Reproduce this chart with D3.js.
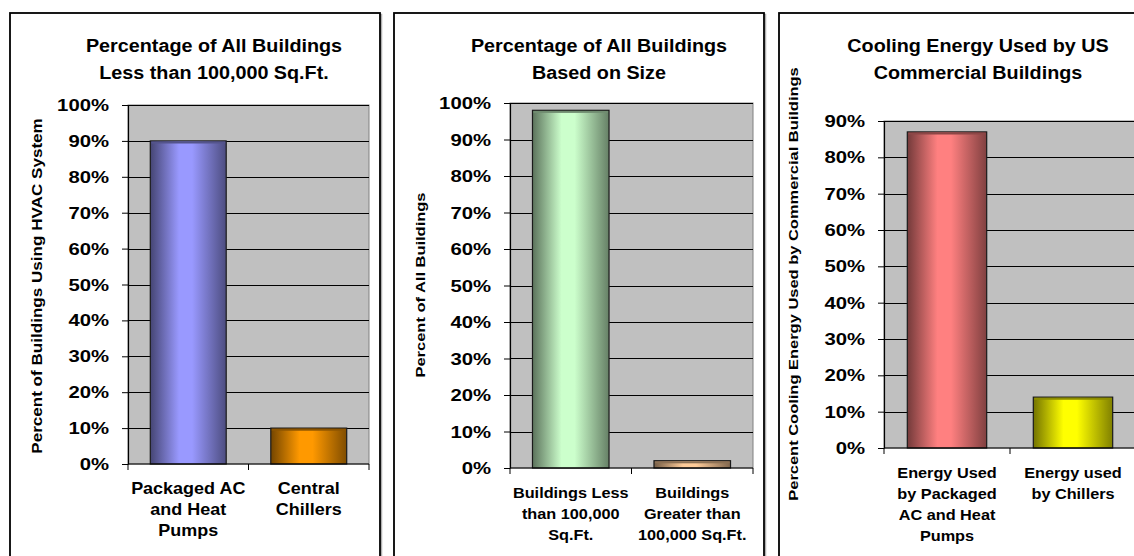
<!DOCTYPE html>
<html>
<head>
<meta charset="utf-8">
<script src="https://cdn.jsdelivr.net/npm/d3@7"></script>
<style>
  body { margin: 0; background: #fff; }
  svg text { font-family: "Liberation Sans", Arial, sans-serif; font-weight: bold; fill: #000; }
</style>
</head>
<body>
<svg id="chart" width="1134" height="556"></svg>
<script>
// data
var titles1 = ["Percentage of All Buildings", "Less than 100,000 Sq.Ft."];
var yTitle1 = "Percent of Buildings Using HVAC System";
var categories1 = [["Packaged AC", "and Heat", "Pumps"], ["Central", "Chillers"]];
var values1 = [0.90, 0.10];
var colors1 = ["#9999FF", "#FF9900"];

var titles2 = ["Percentage of All Buildings", "Based on Size"];
var yTitle2 = "Percent of All Buildings";
var categories2 = [["Buildings Less", "than 100,000", "Sq.Ft."], ["Buildings", "Greater than", "100,000 Sq.Ft."]];
var values2 = [0.98, 0.02];
var colors2 = ["#CCFFCC", "#FFCC99"];

var titles3 = ["Cooling Energy Used by US", "Commercial Buildings"];
var yTitle3 = "Percent Cooling Energy Used by Commercial Buildings";
var categories3 = [["Energy Used", "by Packaged", "AC and Heat", "Pumps"], ["Energy used", "by Chillers"]];
var values3 = [0.87, 0.14];
var colors3 = ["#FF8080", "#FFFF00"];

var yMaxes = [1.0, 1.0, 0.9];

var svg = d3.select("#chart");
var defs = svg.append("defs");

// layout of each panel (pixels)
var panels = [
  {x0: 10,  x1: 380,  left: 128, right: 369,  top: 105, bottom: 464, titleX: 214, ytX: 37,  ytY: 286, ytSize: 14, xlSize: 16.5, xlSx: 1.09,
   titles: titles1, yTitle: yTitle1, cats: categories1, vals: values1, colors: colors1, yMax: yMaxes[0]},
  {x0: 394, x1: 764,  left: 510, right: 753,  top: 103, bottom: 468, titleX: 599, ytX: 420, ytY: 285, ytSize: 13.5, xlSize: 15.5, xlSx: 1.05,
   titles: titles2, yTitle: yTitle2, cats: categories2, vals: values2, colors: colors2, yMax: yMaxes[1]},
  {x0: 779, x1: 1149, left: 884, right: 1136, top: 121, bottom: 448, titleX: 978, ytX: 793, ytY: 284, ytSize: 13.5, xlSize: 15.5, xlSx: 1.05,
   titles: titles3, yTitle: yTitle3, cats: categories3, vals: values3, colors: colors3, yMax: yMaxes[2]}
];

// text is drawn wide, like the old Excel export
function wideText(g, str, x, y, size, sx, anchor, rotate) {
  return g.append("text")
    .attr("transform", "translate(" + x + "," + y + ")" + (rotate ? " rotate(-90)" : "") + " scale(" + sx + ",1)")
    .attr("text-anchor", anchor)
    .style("font-size", size + "px")
    .text(str);
}

function gradFor(id, c) {
  var dark = d3.interpolateRgb(c, "#000")(0.55);
  var dark2 = d3.interpolateRgb(c, "#000")(0.5);
  var lg = defs.append("linearGradient").attr("id", id).attr("x1", "0%").attr("x2", "100%");
  lg.append("stop").attr("offset", "0%").attr("stop-color", dark);
  lg.append("stop").attr("offset", "38%").attr("stop-color", c);
  lg.append("stop").attr("offset", "55%").attr("stop-color", c);
  lg.append("stop").attr("offset", "100%").attr("stop-color", dark2);
  return "url(#" + id + ")";
}

panels.forEach(function(p, pi) {
  var g = svg.append("g");

  // frame with a soft shadow
  g.append("rect").attr("x", p.x0 + 1.5).attr("y", 14.5).attr("width", p.x1 - p.x0).attr("height", 600)
    .attr("fill", "none").attr("stroke", "#b0b0b0").attr("stroke-width", 1.5);
  g.append("rect").attr("x", p.x0).attr("y", 13).attr("width", p.x1 - p.x0).attr("height", 600)
    .attr("fill", "#fff").attr("stroke", "#000").attr("stroke-width", 1.8);

  // title
  wideText(g, p.titles[0], p.titleX, 52, 17.5, 1.13, "middle");
  wideText(g, p.titles[1], p.titleX, 78.5, 17.5, 1.13, "middle");

  var x = d3.scaleBand().domain(d3.range(p.cats.length)).range([p.left, p.right]).padding(0);
  var y = d3.scaleLinear().domain([0, p.yMax]).range([p.bottom, p.top]);
  var ticks = d3.range(0, Math.round(p.yMax * 10) + 1).map(function(i) { return i / 10; });

  // plot area
  g.append("rect").attr("x", p.left).attr("y", p.top).attr("width", p.right - p.left).attr("height", p.bottom - p.top)
    .attr("fill", "#C0C0C0").attr("stroke", "#808080").attr("stroke-width", 1);

  g.append("g").selectAll("line").data(ticks.slice(1)).enter().append("line")
    .attr("x1", p.left).attr("x2", p.right)
    .attr("y1", function(d) { return Math.round(y(d)) + 0.5; })
    .attr("y2", function(d) { return Math.round(y(d)) + 0.5; })
    .attr("stroke", "#000").attr("stroke-width", 1);

  // bars
  var bw = x.bandwidth() * 0.63;
  g.append("g").selectAll("rect").data(p.vals).enter().append("rect")
    .attr("x", function(d, i) { return x(i) + (x.bandwidth() - bw) / 2; })
    .attr("y", function(d) { return y(d); })
    .attr("width", bw)
    .attr("height", function(d) { return p.bottom - y(d); })
    .attr("fill", function(d, i) { return gradFor("g" + pi + "_" + i, p.colors[i]); })
    .attr("stroke", "#1a1a1a").attr("stroke-width", 1.2);
  // thin top face
  g.append("g").selectAll("rect").data(p.vals).enter().append("rect")
    .attr("x", function(d, i) { return x(i) + (x.bandwidth() - bw) / 2 + 1; })
    .attr("y", function(d) { return y(d) + 0.6; })
    .attr("width", bw - 2)
    .attr("height", 2)
    .attr("fill", function(d, i) { return d3.interpolateRgb(p.colors[i], "#000")(0.45); });

  // y axis
  var yAxis = d3.axisLeft(y).tickValues(ticks).tickFormat(d3.format(".0%")).tickSize(6).tickSizeOuter(0);
  var ya = g.append("g").attr("transform", "translate(" + p.left + ",0)").call(yAxis);
  ya.select(".domain").attr("stroke", "#000").attr("stroke-width", 1.2);
  ya.selectAll(".tick line").attr("stroke", "#000");
  ya.selectAll(".tick text").remove();
  ticks.forEach(function(t) {
    wideText(g, d3.format(".0%")(t), p.left - 19, y(t) + 6, 16.5, 1.23, "end");
  });

  // x axis
  var edges = x.domain().map(function(i) { return x(i); }).concat([p.right]);
  g.append("line").attr("x1", p.left).attr("x2", p.right).attr("y1", p.bottom).attr("y2", p.bottom)
    .attr("stroke", "#000").attr("stroke-width", 1.2);
  g.append("g").selectAll("line").data(edges).enter().append("line")
    .attr("x1", function(d) { return d; }).attr("x2", function(d) { return d; })
    .attr("y1", p.bottom).attr("y2", p.bottom + 6)
    .attr("stroke", "#000");

  p.cats.forEach(function(lines, i) {
    var cx = x(i) + x.bandwidth() / 2;
    lines.forEach(function(s, k) {
      wideText(g, s, cx, p.bottom + 30 + k * 21, p.xlSize, p.xlSx, "middle");
    });
  });

  // y title
  wideText(g, p.yTitle, p.ytX + p.ytSize * 0.36, p.ytY, p.ytSize, 1.22, "middle", true);
});
</script>
</body>
</html>
